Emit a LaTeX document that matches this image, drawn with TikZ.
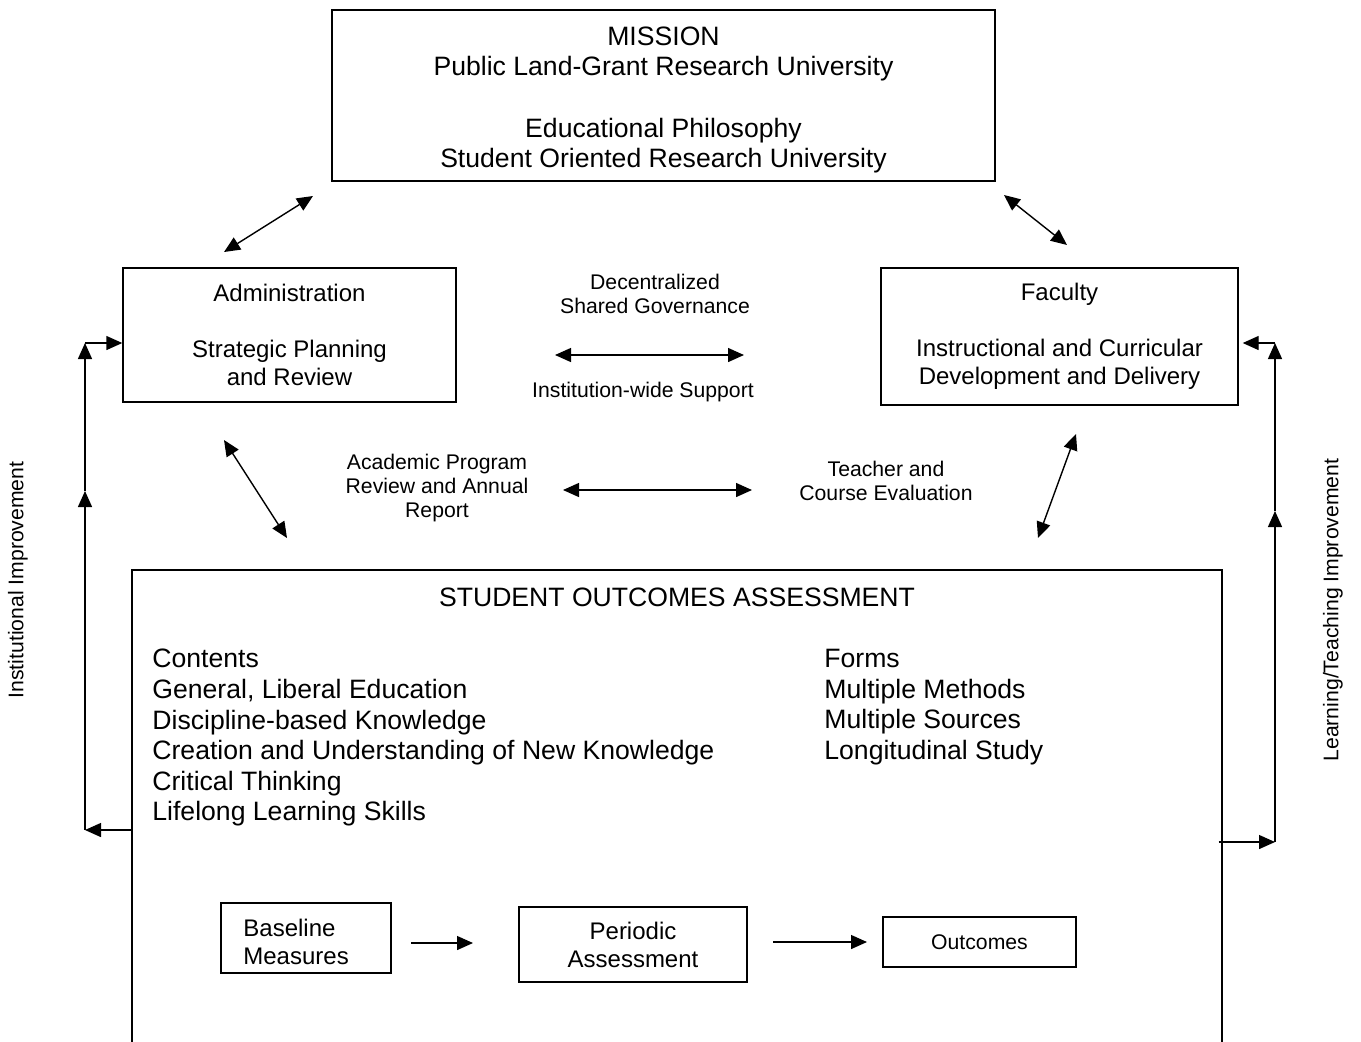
\documentclass[tikz,border=0pt]{standalone}
\usepackage{fontspec}
\setmainfont{Liberation Sans}
\usetikzlibrary{arrows.meta, positioning}
\tikzstyle{box} = [rectangle, 
draw=black, 
line width=0.7pt,
inner sep=0pt,
align=center]
\tikzstyle{arrow} = [-{Triangle[length=8pt, width=7pt]}, line width=0.7pt]
\tikzstyle{dblarrow} = [{Triangle[length=8pt, width=7pt]}-{Triangle[length=8pt, width=7pt]}, line width=0.7pt]
\tikzstyle{bigtext} = [font=\fontsize{13.3}{15.3}\selectfont]
\tikzstyle{midtext} = [font=\fontsize{12}{14}\selectfont]
\tikzstyle{note} = [align=center, font=\fontsize{10.6}{12}\selectfont]

\begin{document}
\begin{tikzpicture}[x=0.5pt, y=-0.5pt]
				
				% Canvas (pixel grid of the original)
				\useasboundingbox (0,0) rectangle (1361,1041);
				
				\node[box, minimum width=331.5pt, minimum height=85.5pt] (mission) at (663.5,95.5) {};
				\node[bigtext, align=center] (missiontext) at (663.5,100) {MISSION \\ Public Land-Grant Research University \\[15.3pt] Educational Philosophy \\ Student Oriented Research University};
				\node[box, midtext, minimum width=166.5pt, minimum height=67pt] (admin) at (289.5,335) {Administration \\[14pt] Strategic Planning \\ and Review};
				\node[box, midtext, minimum width=178.5pt, minimum height=68.5pt] (faculty) at (1059.5,336.5) {Faculty \\[14pt] Instructional and Curricular \\ Development and Delivery};
				\node[box, minimum width=545pt, minimum height=245pt] (soa) at (677,815) {};
				
				\node[bigtext] (soatitle) at (677,597) {STUDENT OUTCOMES ASSESSMENT};
				\node[bigtext, align=left, anchor=north west, inner sep=0pt] (contents) at (152,649) {Contents \\ General, Liberal Education \\ Discipline-based Knowledge \\ Creation and Understanding of New Knowledge \\ Critical Thinking \\ Lifelong Learning Skills};
				\node[bigtext, align=left, anchor=north west, inner sep=0pt] (forms) at (824,649) {Forms \\ Multiple Methods \\ Multiple Sources \\ Longitudinal Study};
				
				\node[box, minimum width=85pt, minimum height=35pt] (baseline) at (306,938) {};
				\node[midtext, align=left, anchor=west, inner sep=0pt] (baselinetext) at (243,941.5) {Baseline \\ Measures};
				\node[box, midtext, minimum width=114pt, minimum height=37.5pt] (periodic) at (633,944.5) {Periodic \\ Assessment};
				\node[box, note, minimum width=96.5pt, minimum height=25pt] (outcomes) at (979.5,942) {Outcomes};
				
				\node[note] (governance) at (655,294) {Decentralized \\ Shared Governance};
				\node[note] (support) at (643,392) {Institution-wide Support};
				\node[note] (review) at (437,488) {Academic Program \\ Review and Annual \\ Report};
				\node[note] (evaluation) at (886,481) {Teacher and \\ Course Evaluation};
				\node[note, rotate=90] (instimp) at (18,580) {Institutional Improvement};
				\node[note, rotate=90] (learnimp) at (1333,610) {Learning/Teaching Improvement};
				
				% Free ends of the floating arrows
				\coordinate (misL) at (313,196);
				\coordinate (admT) at (224,252);
				\coordinate (misR) at (1004,195);
				\coordinate (facT) at (1067,245);
				\coordinate (govL) at (555,355);
				\coordinate (govR) at (744,355);
				\coordinate (admB) at (224,440);
				\coordinate (soaL) at (287,538);
				\coordinate (revR) at (563,490);
				\coordinate (evaL) at (752,490);
				\coordinate (facB) at (1076,434);
				\coordinate (soaR) at (1038,538);
				\coordinate (bmR) at (411,943);
				\coordinate (paL) at (473,943);
				\coordinate (paR) at (773,942);
				\coordinate (ocL) at (867,942);
				\coordinate (lb) at (85,830);
				\coordinate (lm) at (85,491);
				\coordinate (lt) at (85,343);
				\coordinate (rb) at (1275,842);
				\coordinate (rm) at (1275,511);
				\coordinate (rt) at (1275,343);
				
				% Edges
				\draw[dblarrow] (admT) -- (misL);
				\draw[dblarrow] (misR) -- (facT);
				\draw[dblarrow] (govL) -- (govR);
				\draw[dblarrow] (admB) -- (soaL);
				\draw[dblarrow] (revR) -- (evaL);
				\draw[dblarrow] (facB) -- (soaR);
				\draw[arrow] (bmR) -- (paL);
				\draw[arrow] (paR) -- (ocL);
				
				% Feedback loops
				\draw[arrow] (soa.west |- lb) -- (lb);
				\draw[arrow] (lb) -- (lm);
				\draw[arrow] (lm) -- (lt);
				\draw[arrow] (lt) -- (admin.west |- lt);
				\draw[arrow] ([xshift=-2pt]soa.east |- rb) -- (rb);
				\draw[arrow] (rb) -- (rm);
				\draw[arrow] (rm) -- (rt);
				\draw[arrow] (rt) -- ([xshift=2pt]faculty.east |- rt);
				
			\end{tikzpicture}
\end{document}
